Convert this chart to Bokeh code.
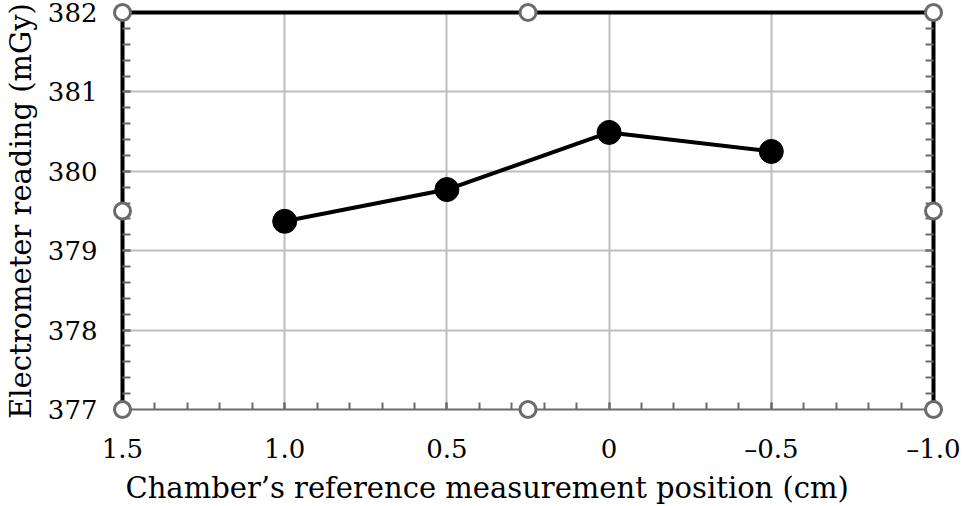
from bokeh.plotting import figure
from bokeh.models import (Range1d, LinearAxis, FixedTicker, CustomJSTickFormatter,
                          ColumnDataSource, Grid, Title)
from bokeh.embed import file_html
from bokeh.resources import INLINE

# ---- data ----
positions = [1.0, 0.5, 0.0, -0.5]
readings = [379.37, 379.77, 380.49, 380.25]
x_ticks = [1.5, 1.0, 0.5, 0.0, -0.5, -1.0]
y_ticks = [377, 378, 379, 380, 381, 382]
x_label = "Chamber\u2019s reference measurement position (cm)"
y_label = "Electrometer reading (mGy)"

X0, X1 = 1.5, -1.0
Y0, Y1 = 377, 382

FONT = "DejaVu Serif"
GRAY = "#6b6b6b"
TICK_FS = "26px"
LABEL_FS = "29px"

p = figure(width=962, height=506, output_backend="svg", toolbar_location=None,
           x_range=Range1d(X0, X1), y_range=Range1d(Y0, Y1),
           x_axis_location=None, y_axis_location=None,
           min_border_left=100, min_border_right=29, min_border_top=12,
           min_border_bottom=60)
p.outline_line_color = None
p.background_fill_color = "white"
p.border_fill_color = "white"

x_minor = [round(X1 + 0.1 * i, 2) for i in range(26)]
y_minor = [round(Y0 + 0.2 * i, 2) for i in range(26)]

fmt = CustomJSTickFormatter(code="""
if (Math.abs(tick) < 1e-9) return "0";
var s = Math.abs(tick).toFixed(1);
return tick < 0 ? "\\u2013" + s : s;
""")

# bottom axis
xb = LinearAxis(ticker=FixedTicker(ticks=x_ticks, minor_ticks=x_minor), formatter=fmt)
xb.axis_line_color = GRAY
xb.axis_line_width = 2
xb.major_tick_line_color = GRAY
xb.minor_tick_line_color = GRAY
xb.major_tick_line_width = 2
xb.minor_tick_line_width = 2
xb.major_tick_in = 7
xb.major_tick_out = 0
xb.minor_tick_in = 7
xb.minor_tick_out = 0
xb.major_label_standoff = 24
xb.major_label_text_font = FONT
xb.major_label_text_font_size = TICK_FS
xb.major_label_text_color = "black"
p.add_layout(xb, "below")

# x-axis title (left-aligned a little inside the frame, as in the reference)
xt_title = Title(text=x_label, align="left", offset=3, standoff=4,
                 text_font=FONT, text_font_size=LABEL_FS,
                 text_font_style="normal", text_color="black")
p.add_layout(xt_title, "below")

# left axis
yl = LinearAxis(ticker=FixedTicker(ticks=y_ticks, minor_ticks=y_minor))
yl.axis_label = y_label
yl.axis_line_color = "black"
yl.axis_line_width = 4
yl.major_tick_line_color = GRAY
yl.minor_tick_line_color = GRAY
yl.major_tick_line_width = 2
yl.minor_tick_line_width = 2
yl.major_tick_in = 8
yl.major_tick_out = 0
yl.minor_tick_in = 8
yl.minor_tick_out = 0
yl.major_label_standoff = 25
yl.major_label_text_font = FONT
yl.major_label_text_font_size = TICK_FS
yl.major_label_text_color = "black"
yl.axis_label_text_font = FONT
yl.axis_label_text_font_size = LABEL_FS
yl.axis_label_text_font_style = "normal"
yl.axis_label_text_color = "black"
yl.axis_label_standoff = 7
p.add_layout(yl, "left")

# right axis (no labels)
yr = LinearAxis(ticker=FixedTicker(ticks=y_ticks, minor_ticks=y_minor))
yr.axis_line_color = "black"
yr.axis_line_width = 4
yr.major_tick_line_color = GRAY
yr.minor_tick_line_color = GRAY
yr.major_tick_line_width = 2
yr.minor_tick_line_width = 2
yr.major_tick_in = 8
yr.major_tick_out = 0
yr.minor_tick_in = 8
yr.minor_tick_out = 0
yr.major_label_text_font_size = "0px"
yr.major_label_text_alpha = 0
p.add_layout(yr, "right")

# top axis (just a line)
xt = LinearAxis(ticker=FixedTicker(ticks=[]))
xt.axis_line_color = "black"
xt.axis_line_width = 4
xt.major_tick_line_color = None
xt.minor_tick_line_color = None
xt.major_label_text_font_size = "0px"
p.add_layout(xt, "above")

# grid
gx = Grid(dimension=0, ticker=FixedTicker(ticks=x_ticks), grid_line_color="#bdbdbd", grid_line_width=2)
gy = Grid(dimension=1, ticker=FixedTicker(ticks=y_ticks), grid_line_color="#bdbdbd", grid_line_width=2)
p.add_layout(gx)
p.add_layout(gy)

# data
src = ColumnDataSource(dict(x=positions, y=readings))
p.line("x", "y", source=src, line_color="black", line_width=4)
p.scatter("x", "y", source=src, size=24, fill_color="black", line_color="black")

# selection handles at corners / edge midpoints
xm = (X0 + X1) / 2
ym = (Y0 + Y1) / 2
hx = [X0, xm, X1, X0, X1, X0, xm, X1]
hy = [Y1, Y1, Y1, ym, ym, Y0, Y0, Y0]
h = p.scatter(hx, hy, size=16, fill_color="white", line_color=GRAY, line_width=3)
h.level = "overlay"

open("out.html", "w").write(file_html(p, INLINE))
